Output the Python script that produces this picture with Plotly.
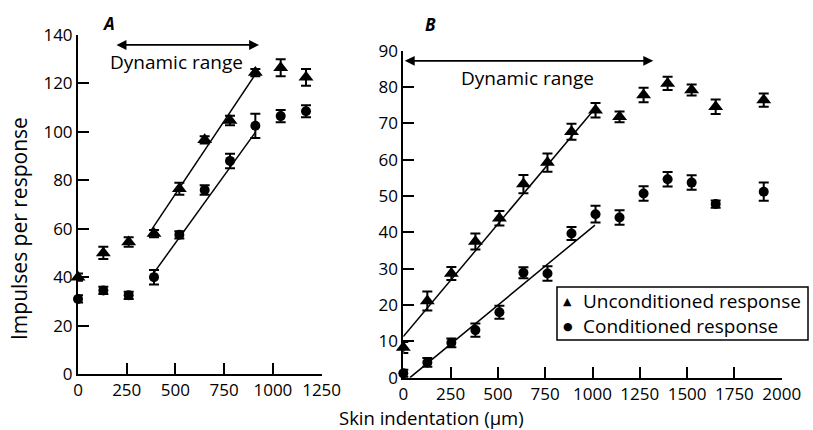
import plotly.graph_objects as go

# Panel A: skin indentation (µm) and impulses per response
a_indent = [0, 130, 260, 390, 520, 650, 780, 910, 1040, 1170]
a_uncond = [40, 50, 54.5, 58, 76.5, 96.7, 104.7, 124.5, 126.5, 122.5]
a_uncond_err = [1.5, 2.5, 2, 1.5, 2.5, 1.5, 2, 1.5, 3.5, 3.5]
a_cond = [31, 34.5, 32.5, 40, 57.5, 76, 88, 102.5, 106.5, 108.5]
a_cond_err = [1.5, 1.5, 1.5, 3, 1.5, 2, 3, 5, 2.5, 2.5]

# Panel B
b_indent = [0, 127, 254, 381, 508, 635, 762, 889, 1016, 1143, 1270, 1397, 1524, 1651, 1905]
b_uncond = [8.3, 21.1, 28.7, 37.5, 43.9, 53.3, 59.2, 67.7, 73.6, 71.8, 77.8, 81, 79.2, 74.6, 76.4]
b_uncond_err = [1.5, 2.6, 1.8, 2.2, 2, 2.5, 2.5, 2.2, 2, 1.5, 2, 1.8, 1.5, 2, 1.8]
b_cond = [1.2, 4.2, 9.6, 13.1, 18.0, 28.9, 28.7, 39.7, 45, 44.1, 50.7, 54.6, 53.7, 47.8, 51.2]
b_cond_err = [1, 1.2, 1.2, 1.8, 1.8, 1.5, 2, 1.8, 2.3, 2, 2, 2, 2, 1, 2.5]

# Linear fits over the dynamic range (end points of each fitted line)
a_uncond_fit_x = [377, 915]
a_uncond_fit_y = [59.5, 124.3]
a_cond_fit_x = [394, 910]
a_cond_fit_y = [42.3, 99.8]
b_uncond_fit_x = [0, 1021]
b_uncond_fit_y = [11.3, 74.6]
b_cond_fit_x = [35, 1013]
b_cond_fit_y = [0, 42]

a_xticks = [0, 250, 500, 750, 1000, 1250]
a_yticks = [0, 20, 40, 60, 80, 100, 120, 140]
b_xticks = [0, 250, 500, 750, 1000, 1250, 1500, 1750, 2000]
b_yticks = [0, 10, 20, 30, 40, 50, 60, 70, 80, 90]

series_names = ["Unconditioned response", "Conditioned response"]

FONT = "Open Sans"
W, H = 813, 430

fig = go.Figure()


def err(vals):
    return dict(type="data", array=vals, visible=True, color="black",
                thickness=2, width=5)


def points(x, y, e, symbol, size, name, xa, ya):
    fig.add_trace(go.Scatter(
        x=x, y=y, mode="markers", name=name, showlegend=False,
        marker=dict(symbol=symbol, size=size, color="black"),
        error_y=err(e), xaxis=xa, yaxis=ya, cliponaxis=False))


def fit(x, y, xa, ya):
    fig.add_trace(go.Scatter(
        x=x, y=y, mode="lines", showlegend=False,
        line=dict(color="black", width=1.5), xaxis=xa, yaxis=ya,
        cliponaxis=False))


fit(a_uncond_fit_x, a_uncond_fit_y, "x", "y")
fit(a_cond_fit_x, a_cond_fit_y, "x", "y")
fit(b_uncond_fit_x, b_uncond_fit_y, "x2", "y2")
fit(b_cond_fit_x, b_cond_fit_y, "x2", "y2")

points(a_indent, a_uncond, a_uncond_err, "triangle-up", 13, series_names[0], "x", "y")
points(a_indent, a_cond, a_cond_err, "circle", 10, series_names[1], "x", "y")
points(b_indent, b_uncond, b_uncond_err, "triangle-up", 13, series_names[0], "x2", "y2")
points(b_indent, b_cond, b_cond_err, "circle", 10, series_names[1], "x2", "y2")

axis_common = dict(showline=True, linecolor="black", linewidth=2, ticks="inside",
                   ticklen=11, tickwidth=2, tickcolor="black", showgrid=False,
                   zeroline=False, automargin=False,
                   tickfont=dict(family=FONT, size=17, color="black"))

fig.update_layout(
    width=W, height=H, margin=dict(l=0, r=0, t=0, b=0, pad=0, autoexpand=False),
    paper_bgcolor="white", plot_bgcolor="white", showlegend=False,
    xaxis=dict(domain=[78 / W, 321.6 / W], range=[0, 1250], tickvals=a_xticks,
               anchor="y", **axis_common),
    yaxis=dict(domain=[1 - 374 / H, 1 - 35 / H], range=[0, 140], tickvals=a_yticks,
               anchor="x", **axis_common),
    xaxis2=dict(domain=[403.3 / W, 781.7 / W], range=[0, 2000], tickvals=b_xticks,
                anchor="y2", **axis_common),
    yaxis2=dict(domain=[1 - 377.7 / H, 1 - 50.7 / H], range=[0, 90], tickvals=b_yticks,
                anchor="x2", **axis_common),
)


def label(x, y, text, font, angle=0, xanchor="center"):
    fig.add_annotation(x=x / W, y=1 - y / H, xref="paper", yref="paper",
                       xanchor=xanchor, yanchor="middle", text=text,
                       textangle=angle, showarrow=False, font=font)


def range_arrow(x0, x1, y, xa, ya):
    fig.add_annotation(x=x1, y=y, ax=x0, ay=y, xref=xa, yref=ya,
                       axref=xa, ayref=ya, showarrow=True, arrowhead=2,
                       arrowside="end+start", arrowwidth=1.8, arrowsize=1.1,
                       arrowcolor="black", text="")


# Dynamic range arrows
range_arrow(190, 929, 135.9, "x", "y")
range_arrow(0, 1321, 87.2, "x2", "y2")
text_font = dict(family=FONT, size=19, color="black")
label(176, 62, "Dynamic range", text_font)
label(527, 78, "Dynamic range", text_font)

# Panel letters
letter_font = dict(family=FONT, size=17, color="black", style="italic", weight="bold")
label(109, 23, "A", letter_font)
label(430, 25, "B", letter_font)

# Axis titles
label(19, 229, "Impulses per response", dict(family=FONT, size=21, color="black"), angle=-90)
label(431, 417, "Skin indentation (\u03bcm)", dict(family=FONT, size=18.5, color="black"))

# Key box
fig.add_shape(type="rect", xref="paper", yref="paper",
              x0=557 / W, x1=808 / W, y0=1 - 340 / H, y1=1 - 287 / H,
              line=dict(color="black", width=1.5), fillcolor="white", layer="below")
sym_font = dict(family="DejaVu Sans", size=11, color="black")
key_font = dict(family=FONT, size=19, color="black")
label(567, 301, "\u25b2", sym_font)
label(568, 326, "\u25cf", sym_font)
label(581, 301, series_names[0], key_font, xanchor="left")
label(581, 326, series_names[1], key_font, xanchor="left")

fig.write_html("out.html")
